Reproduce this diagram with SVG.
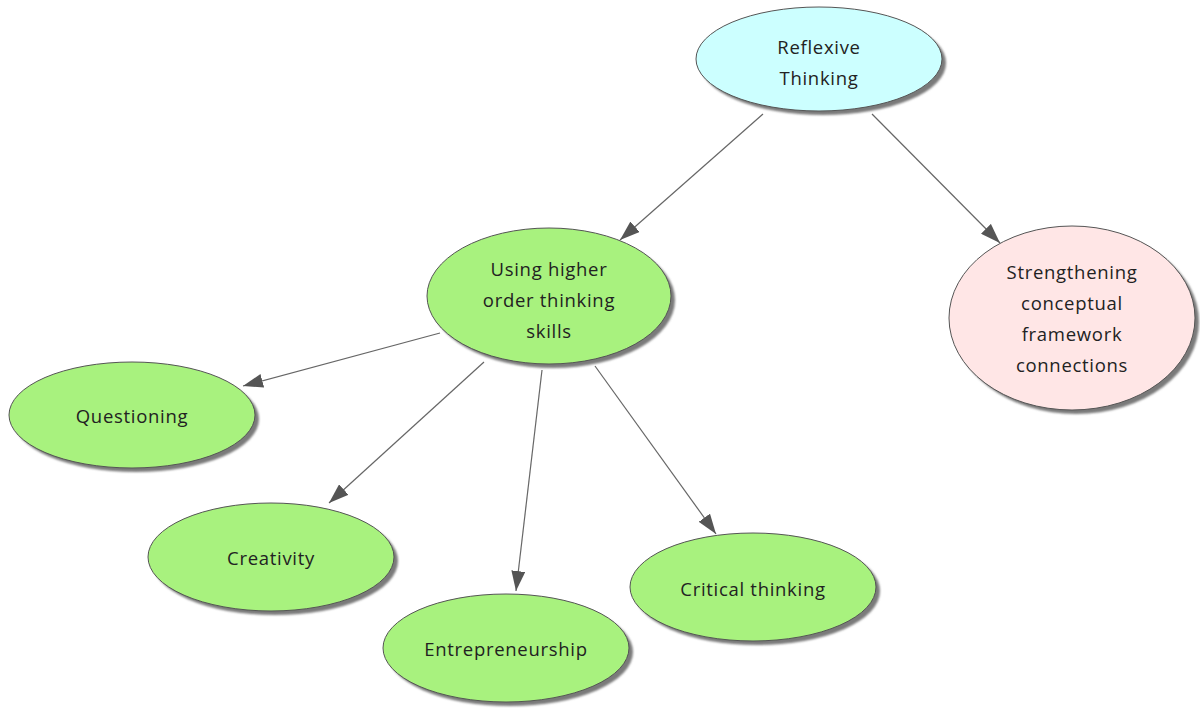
<svg xmlns="http://www.w3.org/2000/svg" width="1200" height="711" viewBox="0 0 1200 711">
  <style>
    .node ellipse.body { stroke: #555; stroke-width: 1; }
    .node ellipse.shade { fill: #7a7a7a; filter: url(#soft); }
    .green { fill: #a8f27e; }
    .cyan { fill: #ccffff; }
    .pink { fill: #ffe6e6; }
    text { font-family: "Open Sans", "DejaVu Sans", sans-serif; font-size: 18.5px; letter-spacing: 0.7px; fill: #222; text-anchor: middle; dominant-baseline: central; }
    .edge { stroke: #666; stroke-width: 1.2; fill: none; marker-end: url(#arrow); }
  </style>
  <defs>
    <filter id="soft" x="-10%" y="-10%" width="120%" height="130%">
      <feGaussianBlur stdDeviation="1.2"/>
    </filter>
    <marker id="arrow" viewBox="0 0 20 14" refX="20" refY="7" markerWidth="20" markerHeight="14" markerUnits="userSpaceOnUse" orient="auto">
      <path d="M0,0 L20,7 L0,14 Z" fill="#555"/>
    </marker>
  </defs>
  <rect width="1200" height="711" fill="#fff"/>

  <g id="connectors">
    <line class="edge" x1="763" y1="114" x2="620" y2="240"/>
    <line class="edge" x1="872" y1="114" x2="1000" y2="243"/>
    <line class="edge" x1="440" y1="333" x2="243" y2="386"/>
    <line class="edge" x1="484" y1="362" x2="329" y2="503"/>
    <line class="edge" x1="542" y1="370" x2="516" y2="591"/>
    <line class="edge" x1="595" y1="366" x2="716" y2="534"/>
  </g>

  <g id="reflexive-thinking" class="node">
    <ellipse class="shade" cx="823" cy="63" rx="123" ry="52"/>
    <ellipse class="body cyan" cx="819" cy="59" rx="123" ry="52"/>
    <text x="819" y="46">Reflexive</text>
    <text x="819" y="77">Thinking</text>
  </g>

  <g id="higher-order-thinking" class="node">
    <ellipse class="shade" cx="553" cy="300" rx="122" ry="68"/>
    <ellipse class="body green" cx="549" cy="296" rx="122" ry="68"/>
    <text x="549" y="268">Using higher</text>
    <text x="549" y="299">order thinking</text>
    <text x="549" y="330">skills</text>
  </g>

  <g id="conceptual-framework" class="node">
    <ellipse class="shade" cx="1076" cy="322" rx="123" ry="92"/>
    <ellipse class="body pink" cx="1072" cy="318" rx="123" ry="92"/>
    <text x="1072" y="271">Strengthening</text>
    <text x="1072" y="302">conceptual</text>
    <text x="1072" y="333">framework</text>
    <text x="1072" y="364">connections</text>
  </g>

  <g id="questioning" class="node">
    <ellipse class="shade" cx="136" cy="419" rx="123" ry="53"/>
    <ellipse class="body green" cx="132" cy="415" rx="123" ry="53"/>
    <text x="132" y="415">Questioning</text>
  </g>

  <g id="creativity" class="node">
    <ellipse class="shade" cx="275" cy="561" rx="123" ry="54"/>
    <ellipse class="body green" cx="271" cy="557" rx="123" ry="54"/>
    <text x="271" y="557">Creativity</text>
  </g>

  <g id="entrepreneurship" class="node">
    <ellipse class="shade" cx="510" cy="652" rx="123" ry="54"/>
    <ellipse class="body green" cx="506" cy="648" rx="123" ry="54"/>
    <text x="506" y="648">Entrepreneurship</text>
  </g>

  <g id="critical-thinking" class="node">
    <ellipse class="shade" cx="757" cy="591" rx="123" ry="54"/>
    <ellipse class="body green" cx="753" cy="587" rx="123" ry="54"/>
    <text x="753" y="588">Critical thinking</text>
  </g>
</svg>
